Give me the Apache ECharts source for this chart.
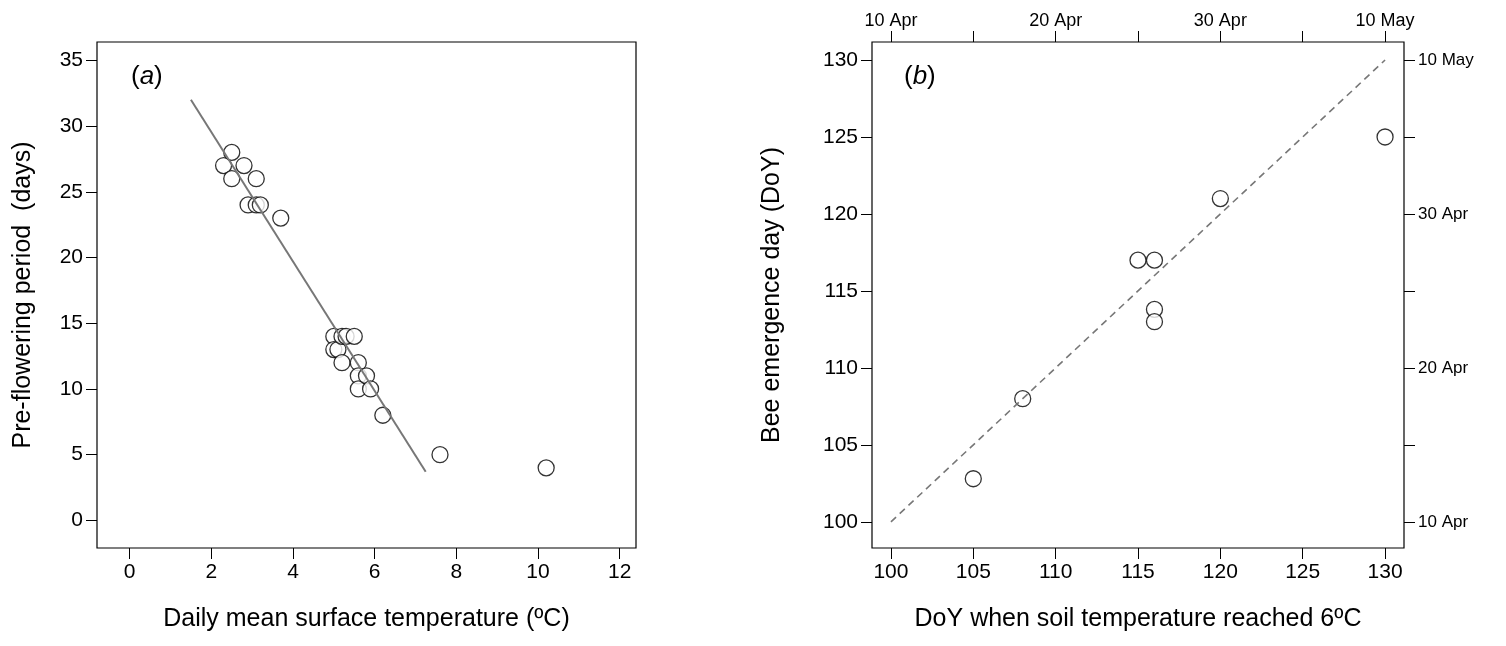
<!DOCTYPE html><html><head><meta charset="utf-8"><script src="https://cdn.jsdelivr.net/npm/echarts@6/dist/echarts.min.js"></script></head><body style="margin:0"><div id="c" style="width:1506px;height:646px"></div><script>
const ptsA=[[2.3,27],[2.5,28],[2.5,26],[2.8,27],[2.9,24],[3.1,26],[3.1,24],[3.2,24],[3.7,23],[5.0,14],[5.0,13],[5.1,13],[5.2,14],[5.2,12],[5.3,14],[5.5,14],[5.6,12],[5.6,11],[5.6,10],[5.8,11],[5.9,10],[6.2,8],[7.6,5],[10.2,4]];
const fitA=[[1.5,32],[7.25,3.7]];
const ptsB=[[105,102.8],[108,108],[115,117],[116,117],[116,113.8],[116,113],[120,121],[130,125]];
const lineB=[[100,100],[130,130]];
const dateLabels={100:'10 Apr',110:'20 Apr',120:'30 Apr',130:'10 May'};
const F='Liberation Sans, Arial, sans-serif';
const tk={show:true,length:11,lineStyle:{color:'#000'}};
const lab={color:'#000',fontSize:21,fontFamily:F,margin:14};
const nm={color:'#000',fontSize:25,fontFamily:F};
function ax(o){return Object.assign({axisLine:{show:false,onZero:false},axisTick:tk,splitLine:{show:false},axisLabel:lab,nameTextStyle:nm,nameLocation:'middle'},o);}
const dl={...lab,fontSize:18,formatter:v=>dateLabels[v]||''};
const c=echarts.init(document.getElementById('c'));
c.setOption({animation:false,
grid:[{left:97,top:42,width:539,height:506,show:true,borderColor:'#000',borderWidth:1.2},{left:872,top:42,width:532,height:506,show:true,borderColor:'#000',borderWidth:1.2}],
xAxis:[ax({gridIndex:0,type:'value',min:-0.8,max:12.4,axisLabel:{...lab,customValues:[0,2,4,6,8,10,12]},axisTick:{...tk,customValues:[0,2,4,6,8,10,12]},name:'Daily mean surface temperature (ºC)',nameGap:59}),
ax({gridIndex:1,type:'value',min:98.85,max:131.15,axisLabel:{...lab,customValues:[100,105,110,115,120,125,130]},axisTick:{...tk,customValues:[100,105,110,115,120,125,130]},name:'DoY when soil temperature reached 6ºC',nameGap:59}),
ax({gridIndex:1,type:'value',position:'top',min:98.85,max:131.15,axisLabel:{...dl,margin:12,customValues:[100,110,120,130]},axisTick:{...tk,customValues:[100,105,110,115,120,125,130]}})],
yAxis:[ax({gridIndex:0,type:'value',min:-2.1,max:36.4,axisLabel:{...lab,customValues:[0,5,10,15,20,25,30,35]},axisTick:{...tk,customValues:[0,5,10,15,20,25,30,35]},name:'Pre-flowering period  (days)',nameGap:61}),
ax({gridIndex:1,type:'value',min:98.3,max:131.17,axisLabel:{...lab,customValues:[100,105,110,115,120,125,130]},axisTick:{...tk,customValues:[100,105,110,115,120,125,130]},name:'Bee emergence day (DoY)',nameGap:87}),
ax({gridIndex:1,type:'value',position:'right',min:98.3,max:131.17,axisLabel:{...dl,fontSize:17,customValues:[100,110,120,130]},axisTick:{...tk,customValues:[100,105,110,115,120,125,130]}})],
series:[
{type:'line',xAxisIndex:0,yAxisIndex:0,data:fitA,symbol:'none',lineStyle:{color:'#777',width:2}},
{type:'scatter',xAxisIndex:0,yAxisIndex:0,data:ptsA,symbolSize:16,itemStyle:{color:'#fff',borderColor:'#000',borderWidth:1.3}},
{type:'line',xAxisIndex:1,yAxisIndex:1,data:lineB,symbol:'none',lineStyle:{color:'#777',width:1.6,type:[7,5]}},
{type:'scatter',xAxisIndex:1,yAxisIndex:1,data:ptsB,symbolSize:16,itemStyle:{color:'#fff',borderColor:'#000',borderWidth:1.3}}],
graphic:[{type:'text',left:131,top:64,style:{rich:{i:{fontStyle:'italic',fontSize:26,fontFamily:F}},text:'({i|a})',fontSize:26,fontFamily:F}},
{type:'text',left:904,top:64,style:{rich:{i:{fontStyle:'italic',fontSize:26,fontFamily:F}},text:'({i|b})',fontSize:26,fontFamily:F}}]
});
</script></body></html>
